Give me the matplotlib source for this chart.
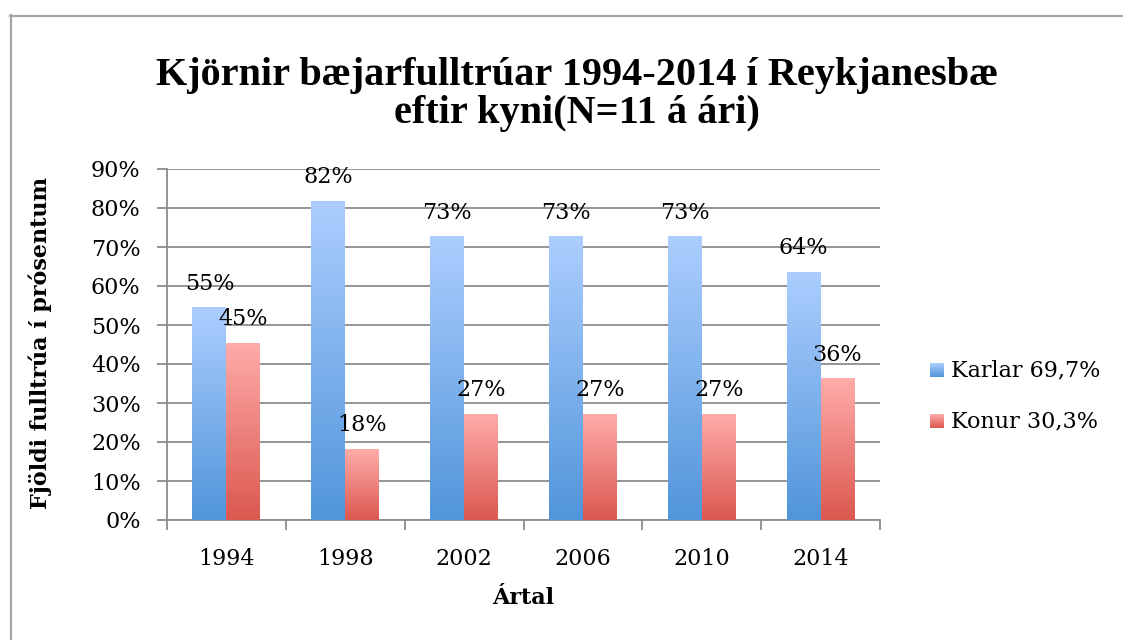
#!/usr/bin/env python3
# -*- coding: utf-8 -*-
"""Kjörnir bæjarfulltrúar í Reykjanesbæ eftir kyni - gradient bar chart"""

import numpy as np
import matplotlib
matplotlib.use("Agg")
import matplotlib.pyplot as plt
from matplotlib.colors import LinearSegmentedColormap
from matplotlib.lines import Line2D

# Data
years = ["1994", "1998", "2002", "2006", "2010", "2014"]
karlar = [54.55, 81.82, 72.73, 72.73, 72.73, 63.64]
konur = [45.45, 18.18, 27.27, 27.27, 27.27, 36.36]
series_names = ["Karlar 69,7%", "Konur 30,3%"]
yticks = [0, 10, 20, 30, 40, 50, 60, 70, 80, 90]

plt.rcParams['font.family'] = ['DejaVu Serif']

W, H = 1123, 640
fig = plt.figure(figsize=(W / 100, H / 100), dpi=100)


def fx(px):
    return px / W


def fy(py):
    return 1 - py / H


ax = fig.add_axes([fx(167), fy(520), fx(880) - fx(167), fy(169) - fy(520)])

blue_cmap = LinearSegmentedColormap.from_list("b", ["#5195da", "#acceff"])
red_cmap = LinearSegmentedColormap.from_list("r", ["#db584f", "#ffacaa"])
grad = np.linspace(0, 1, 256).reshape(-1, 1)

x = np.arange(len(years))
bw = 1 / 3.5


def gradient_bars(vals, offset, cmap):
    bars = ax.bar(x + offset, vals, width=bw, color="none", edgecolor="none", zorder=3)
    for b in bars:
        bx, by = b.get_x(), b.get_y()
        w, h = b.get_width(), b.get_height()
        im = ax.imshow(grad, extent=[bx, bx + w, by, by + h], origin="lower",
                       aspect="auto", cmap=cmap, zorder=3)
        im.set_clip_path(b)
    for xi, v in zip(x + offset, vals):
        ax.annotate(f"{int(v + 0.5)}%", (xi, v), xytext=(0, 17), textcoords="offset points",
                    ha="center", va="center", fontsize=16, zorder=5)
    return bars


gradient_bars(karlar, -bw / 2, blue_cmap)
gradient_bars(konur, bw / 2, red_cmap)

ax.set_xlim(-0.5, len(years) - 0.5)
ax.set_ylim(0, 90)
ax.set_yticks(yticks)
ax.set_yticklabels([f"{t}%" for t in yticks])
ax.set_xticks(x)
ax.set_xticklabels(years)
ax.set_xticks(np.arange(len(years) + 1) - 0.5, minor=True)
ax.yaxis.grid(True, color="#8c8c8c", linewidth=1.3, zorder=0)
ax.set_axisbelow(True)

ax.tick_params(axis="y", which="major", length=7, width=1.3, color="#8c8c8c",
               labelsize=16, pad=12)
ax.tick_params(axis="x", which="major", length=0, labelsize=16, pad=20)
ax.tick_params(axis="x", which="minor", length=7, width=1.3, color="#8c8c8c")

for s in ["top", "right"]:
    ax.spines[s].set_visible(False)
for s in ["left", "bottom"]:
    ax.spines[s].set_color("#8c8c8c")
    ax.spines[s].set_linewidth(1.3)

# Axis titles
fig.text(fx(40), fy(343), "Fjöldi fulltrúa í prósentum", rotation=90, ha="center",
         va="center", fontsize=16, fontweight="bold")
fig.text(fx(523), fy(598), "Ártal", ha="center", va="center", fontsize=16, fontweight="bold")

# Title
title_font = ['Liberation Serif', 'DejaVu Serif']
fig.text(fx(577), fy(75), "Kjörnir bæjarfulltrúar 1994-2014 í Reykjanesbæ",
         ha="center", va="center", fontsize=29, fontweight="bold", family=title_font)
fig.text(fx(577), fy(113), "eftir kyni(N=11 á ári)",
         ha="center", va="center", fontsize=29, fontweight="bold", family=title_font)

# Legend with gradient squares
for i, (name, cmap) in enumerate(zip(series_names, [blue_cmap, red_cmap])):
    cy = 370 + i * 51
    lax = fig.add_axes([fx(930), fy(cy + 7), fx(14), 14 / H])
    lax.imshow(grad, origin="lower", aspect="auto", cmap=cmap)
    lax.axis("off")
    fig.text(fx(951), fy(cy), name, ha="left", va="center", fontsize=16)

# Outer chart border
fig.add_artist(Line2D([fx(10.5), fx(10.5)], [fy(15), 0], color="#a6a6a6", linewidth=1.6))
fig.add_artist(Line2D([fx(10), 1], [fy(15.5), fy(15.5)], color="#a6a6a6", linewidth=1.6))

plt.savefig("out.png", dpi=100)
